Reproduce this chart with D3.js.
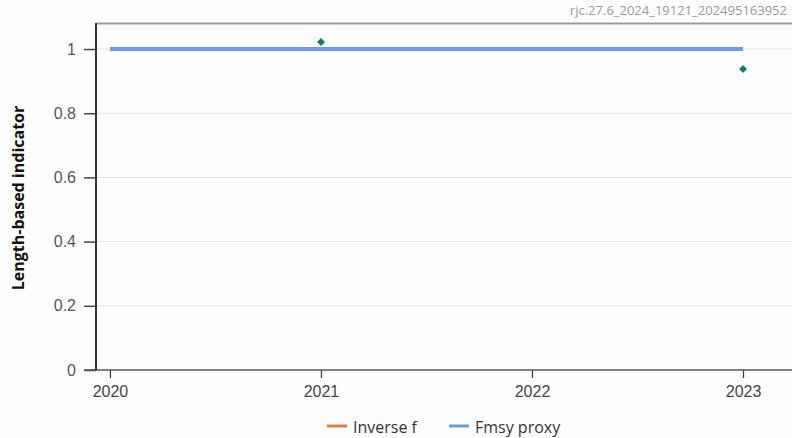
<!DOCTYPE html>
<html>
<head>
<meta charset="utf-8">
<script src="https://cdn.jsdelivr.net/npm/d3@7"></script>
<style>
  html, body { margin: 0; padding: 0; background: #fefefe; }
  svg { display: block; font-family: "Open Sans", "Noto Sans", sans-serif; }
</style>
</head>
<body>
<svg id="chart" width="792" height="438"></svg>
<script>
// Years shown on the x axis
const years = [2020, 2021, 2022, 2023];
// Inverse f observations (only some years have values)
const inverseYears = [2021, 2023];
const inverseValues = [1.022, 0.938];
// Fmsy proxy reference level
const fmsyYears = [2020, 2023];
const fmsyValues = [1, 1];
// Y axis ticks
const yTicks = [0, 0.2, 0.4, 0.6, 0.8, 1];
const yTickLabels = ["0", "0.2", "0.4", "0.6", "0.8", "1"];

const svg = d3.select("#chart");
const W = 792, H = 438;
const margin = { left: 96, right: 0, top: 24, bottom: 68 };

const x = d3.scaleLinear()
  .domain([2019.934, 2023.232])
  .range([margin.left, W - margin.right]);
const y = d3.scaleLinear()
  .domain([0, 1.078])
  .range([H - margin.bottom, margin.top]);

// horizontal gridlines
svg.append("g")
  .selectAll("line")
  .data(yTicks.slice(1))
  .join("line")
  .attr("x1", margin.left).attr("x2", W)
  .attr("y1", d => y(d)).attr("y2", d => y(d))
  .attr("stroke", "#e2e2e2").attr("stroke-width", 1);

// top frame line
svg.append("line")
  .attr("x1", margin.left).attr("x2", W)
  .attr("y1", margin.top - 0.5).attr("y2", margin.top - 0.5)
  .attr("stroke", "#9a9a9a").attr("stroke-width", 2);

// y axis
const yAxis = d3.axisLeft(y)
  .tickValues(yTicks)
  .tickFormat((d, i) => yTickLabels[i])
  .tickSize(12)
  .tickPadding(8);
const gy = svg.append("g")
  .attr("transform", `translate(${margin.left},0)`)
  .call(yAxis);
gy.select(".domain").remove();
gy.selectAll(".tick line").attr("stroke", "#444").attr("stroke-width", 1.5);
gy.selectAll(".tick text").attr("fill", "#555").style("font-size", "16px");

// x axis
const xAxis = d3.axisBottom(x)
  .tickValues(years)
  .tickFormat(d3.format("d"))
  .tickSize(8)
  .tickPadding(8);
const gx = svg.append("g")
  .attr("transform", `translate(0,${y(0)})`)
  .call(xAxis);
gx.select(".domain").remove();
gx.selectAll(".tick line").attr("stroke", "#333").attr("stroke-width", 1.2);
gx.selectAll(".tick text").attr("fill", "#444").style("font-size", "16px");

// axis lines
svg.append("line")
  .attr("x1", margin.left - 12).attr("x2", W)
  .attr("y1", y(0)).attr("y2", y(0))
  .attr("stroke", "#555").attr("stroke-width", 1.5);
svg.append("line")
  .attr("x1", margin.left).attr("x2", margin.left)
  .attr("y1", margin.top - 1).attr("y2", y(0))
  .attr("stroke", "#333").attr("stroke-width", 2);

// Fmsy proxy line
const fmsyData = fmsyYears.map((yr, i) => [yr, fmsyValues[i]]);
svg.append("path")
  .datum(fmsyData)
  .attr("d", d3.line().x(d => x(d[0])).y(d => y(d[1])))
  .attr("fill", "none")
  .attr("stroke", "#6b9be6")
  .attr("stroke-width", 4);

// Inverse f markers
const inverseData = inverseYears.map((yr, i) => [yr, inverseValues[i]]);
svg.append("g")
  .selectAll("path")
  .data(inverseData)
  .join("path")
  .attr("transform", d => `translate(${x(d[0])},${y(d[1])})`)
  .attr("d", d3.symbol(d3.symbolDiamond2, 40))
  .attr("fill", "#127c6c");

// y axis title
svg.append("text")
  .attr("transform", `translate(24,198) rotate(-90)`)
  .attr("text-anchor", "middle")
  .attr("fill", "#111")
  .style("font-size", "16px")
  .style("font-weight", "bold")
  .text("Length-based indicator");

// identifier text top right
svg.append("text")
  .attr("x", 787).attr("y", 15)
  .attr("text-anchor", "end")
  .attr("fill", "#999")
  .style("font-size", "13px")
  .text("rjc.27.6_2024_19121_202495163952");

// legend
const legendItems = [
  { label: "Inverse f", color: "#e07a4a", x: 327 },
  { label: "Fmsy proxy", color: "#6b9be6", x: 449 }
];
const lg = svg.append("g").attr("transform", "translate(0,427)");
lg.selectAll("line")
  .data(legendItems)
  .join("line")
  .attr("x1", d => d.x).attr("x2", d => d.x + 20)
  .attr("y1", -1).attr("y2", -1)
  .attr("stroke", d => d.color).attr("stroke-width", 3);
lg.selectAll("text")
  .data(legendItems)
  .join("text")
  .attr("x", d => d.x + 26).attr("y", 6)
  .attr("fill", "#333")
  .style("font-size", "16px")
  .text(d => d.label);
</script>
</body>
</html>
